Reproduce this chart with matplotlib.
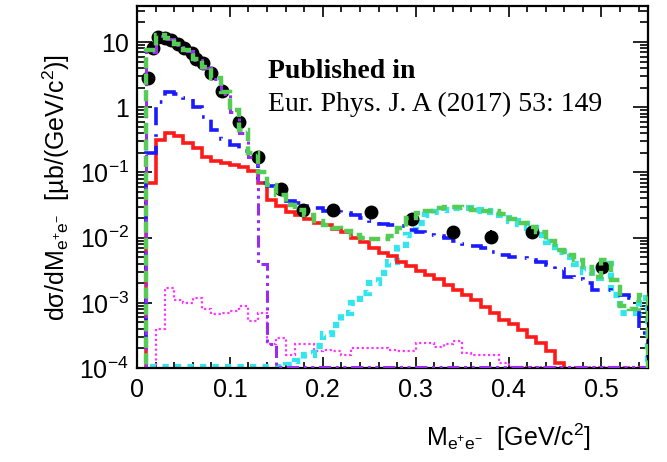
import numpy as np
import matplotlib.pyplot as plt
from matplotlib.ticker import MultipleLocator, LogLocator, NullFormatter

plt.rcParams['font.family'] = ['Liberation Sans', 'DejaVu Sans']
plt.rcParams['mathtext.fontset'] = 'custom'
plt.rcParams['mathtext.rm'] = 'Liberation Sans'
plt.rcParams['mathtext.it'] = 'Liberation Sans:italic'

# histogram binning: 0.01 GeV/c^2 bins from 0.01 to 0.55
edges = np.linspace(0.01, 0.55, 55)

# total model (green dashed)
total = [7.5, 13, 11.5, 9.5, 7.5, 5.5, 4.2, 2.8, 1.7, 0.9,
         0.45, 0.2, 0.1, 0.065, 0.045, 0.032, 0.027, 0.022, 0.018, 0.0155,
         0.014, 0.0125, 0.011, 0.010, 0.0095, 0.0095, 0.0105, 0.014, 0.02, 0.024,
         0.026, 0.028, 0.029, 0.029, 0.028, 0.027, 0.026, 0.026, 0.023, 0.019,
         0.017, 0.0145, 0.012, 0.009, 0.0065, 0.0055, 0.0045, 0.0035, 0.0025, 0.0045,
         0.0022, 0.0009, 0.0008, 0.0013]

# blue dash-dot
blue = [0.2, 1.2, 1.7, 1.6, 1.4, 1.0, 0.7, 0.45, 0.33, 0.26,
        0.21, 0.19, 0.07, 0.063, 0.05, 0.037, 0.034, 0.031, 0.028, 0.026,
        0.025, 0.024, 0.022, 0.02, 0.018, 0.016, 0.0155, 0.015, 0.013, 0.012,
        0.011, 0.0105, 0.010, 0.009, 0.008, 0.0075, 0.007, 0.006, 0.0055, 0.005,
        0.0048, 0.0045, 0.0042, 0.0038, 0.0033, 0.0025, 0.0023, 0.002, 0.0016, 0.0016,
        0.0015, 0.0013, 0.0012, 0.00035]

# red solid
red = [0.07, 0.31, 0.4, 0.36, 0.28, 0.24, 0.17, 0.15, 0.14, 0.13,
       0.12, 0.105, 0.07, 0.038, 0.031, 0.025, 0.022, 0.019, 0.017, 0.0155,
       0.0135, 0.012, 0.010, 0.0085, 0.007, 0.0058, 0.0052, 0.0042, 0.0037, 0.0031,
       0.0027, 0.0023, 0.0019, 0.0016, 0.0013, 0.0011, 0.00085, 0.0007, 0.00055, 0.00047,
       0.00038, 0.0003, 0.00024, 0.00018, 0.00012,
       5e-5, 5e-5, 5e-5, 5e-5, 5e-5, 5e-5, 5e-5, 5e-5, 5e-5]

# pi0 Dalitz-like component (purple dash-dot-dot)
purple = [7, 12.5, 11, 9, 7.2, 5.3, 4.0, 2.7, 1.6, 0.85,
          0.4, 0.17, 0.004, 2.3e-4] + [1.05e-4] * 40

# magenta dotted
magenta = [5e-5, 4e-4, 1.7e-3, 1.1e-3, 1.0e-3, 1.2e-3, 8e-4, 6.7e-4, 7e-4, 7.5e-4,
           9e-4, 5.3e-4, 7e-4, 2.3e-4, 2.9e-4, 1.6e-4, 2.3e-4, 2.3e-4, 1.8e-4, 1.9e-4,
           1.8e-4, 1.6e-4, 2e-4, 2e-4, 2e-4, 2e-4, 1.9e-4, 1.8e-4, 1.8e-4, 2.4e-4,
           2.4e-4, 2.1e-4, 2.3e-4, 2.6e-4, 1.7e-4, 1.6e-4, 1.6e-4, 1.6e-4, 1.2e-4, 1.03e-4] + [1.03e-4] * 14

# cyan thick dotted
cyan = [1.05e-4] * 15 + [
    1.1e-4, 1.3e-4, 1.6e-4, 2.2e-4, 3.3e-4, 4.5e-4, 7e-4, 1.0e-3, 1.4e-3, 2e-3,
    2.9e-3, 4.2e-3, 7e-3, 0.011, 0.017, 0.022, 0.025, 0.027, 0.028, 0.028,
    0.027, 0.026, 0.025, 0.022, 0.018, 0.016, 0.014, 0.011, 0.0085, 0.006,
    0.005, 0.004, 0.003, 0.0024, 0.004, 0.0013, 0.0007, 0.0007, 0.0012]

# measured points
data_x = [0.012, 0.017, 0.023, 0.030, 0.037, 0.044, 0.051, 0.059, 0.064, 0.071,
          0.080, 0.091, 0.110, 0.1305, 0.155, 0.179, 0.211, 0.252, 0.296, 0.340,
          0.381, 0.425, 0.501]
data_y = [2.8, 8.0, 12.0, 11.4, 10.7, 9.5, 8.0, 6.7, 5.6, 4.7,
          3.3, 1.75, 0.59, 0.172, 0.055, 0.0267, 0.0266, 0.0245, 0.0194, 0.012,
          0.0104, 0.012, 0.0036]
data_err = [0.2, 0.5, 0.6, 0.6, 0.5, 0.5, 0.4, 0.35, 0.3, 0.25,
            0.2, 0.12, 0.05, 0.015, 0.005, 0.0025, 0.0025, 0.0025, 0.002, 0.0018,
            0.0025, 0.0015, 0.0008]

ytick_vals = [1e-4, 1e-3, 1e-2, 1e-1, 1, 10]
ytick_labels = ['10$^{\\mathregular{-4}}$', '10$^{\\mathregular{-3}}$', '10$^{\\mathregular{-2}}$',
                '10$^{\\mathregular{-1}}$', '1', '10']
xtick_vals = [0, 0.1, 0.2, 0.3, 0.4, 0.5]
xtick_labels = ['0', '0.1', '0.2', '0.3', '0.4', '0.5']

fig = plt.figure(figsize=(6.67, 4.62), dpi=100)
ax = fig.add_axes([0.2054, 0.2035, 0.766, 0.7835])
ax.set_yscale('log')

ax.errorbar(data_x, data_y, yerr=data_err, fmt='o', color='black', ms=9,
            elinewidth=1.5, capsize=0, zorder=3)

ax.stairs(magenta, edges, baseline=1e-6, color='#ff33ff', lw=1.6,
          linestyle=(0, (1, 1.2)), zorder=2)
ax.stairs(cyan, edges, baseline=1e-6, color='#33e5ee', lw=4.5,
          linestyle=(0, (1, 1)), zorder=2)
ax.stairs(red, edges, baseline=1e-6, color='#ff1a1a', lw=2.6, zorder=2)
ax.stairs(blue, edges, baseline=1e-6, color='#1a1aff', lw=2.6,
          linestyle=(0, (5, 2.5, 0.7, 2.5)), zorder=2)
ax.stairs(purple, edges, baseline=1e-6, color='#9a2bf0', lw=2.2,
          linestyle=(0, (4, 1.5, 1, 1.5, 1, 1.5)), zorder=4)
ax.stairs(total, edges, baseline=1e-6, color='#55cc55', lw=3.2,
          linestyle=(0, (2.5, 1.2)), zorder=5)

ax.set_xlim(0, 0.55)
ax.set_ylim(1e-4, 35.8)

ax.set_xticks(xtick_vals)
ax.set_xticklabels(xtick_labels)
ax.xaxis.set_minor_locator(MultipleLocator(0.02))
ax.set_yticks(ytick_vals)
ax.set_yticklabels(ytick_labels)
ax.yaxis.set_minor_locator(LogLocator(base=10, subs=np.arange(2, 10), numticks=20))
ax.yaxis.set_minor_formatter(NullFormatter())

ax.tick_params(axis='both', which='both', direction='in', top=True, right=True,
               labelsize=18, width=1.2)
ax.tick_params(axis='x', which='major', length=8, pad=7)
ax.tick_params(axis='x', which='minor', length=4)
ax.tick_params(axis='y', which='major', length=11, pad=6)
ax.tick_params(axis='y', which='minor', length=6)
for spine in ax.spines.values():
    spine.set_linewidth(1.6)

ax.set_ylabel('dσ/dM$_{\\mathregular{e^{+}e^{-}}}$  [µb/(GeV/c$^{\\mathregular{2}}$)]',
              fontsize=18, labelpad=5)
ax.set_xlabel('M$_{\\mathregular{e^{+}e^{-}}}$  [GeV/c$^{\\mathregular{2}}$]',
              fontsize=18, x=0.888, ha='right', labelpad=14)

ax.text(0.257, 0.818, 'Published in', transform=ax.transAxes, fontsize=20,
        fontweight='bold', family='Liberation Serif', va='center')
ax.text(0.257, 0.727, 'Eur. Phys. J. A (2017) 53: 149', transform=ax.transAxes,
        fontsize=20, family='Liberation Serif', va='center')

fig.savefig('out.png', dpi=100)
